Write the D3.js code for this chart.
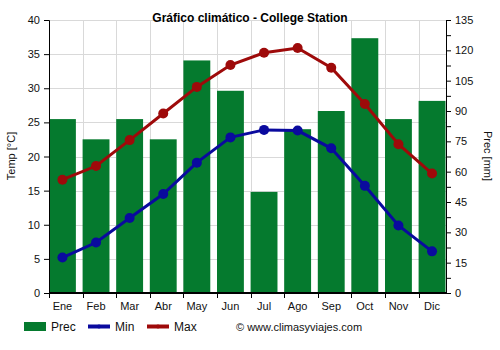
<!DOCTYPE html>
<html>
<head>
<meta charset="utf-8">
<script src="https://cdn.jsdelivr.net/npm/d3@7"></script>
<style>
  html, body { margin: 0; padding: 0; background: #fff; }
  svg { display: block; font-family: "Liberation Sans", Arial, sans-serif; }
</style>
</head>
<body>
<svg id="chart" width="500" height="350"></svg>
<script>
// Monthly climate data for College Station
const months = ["Ene", "Feb", "Mar", "Abr", "May", "Jun", "Jul", "Ago", "Sep", "Oct", "Nov", "Dic"];
const precip = [86, 76, 86, 76, 115, 100, 50, 81, 90, 126, 86, 95];
const tempMin = [5.2, 7.4, 11.0, 14.5, 19.1, 22.8, 23.9, 23.8, 21.2, 15.7, 9.9, 6.1];
const tempMax = [16.6, 18.6, 22.4, 26.3, 30.2, 33.4, 35.2, 35.9, 33.0, 27.7, 21.8, 17.5];
const tempTicks = [0, 5, 10, 15, 20, 25, 30, 35, 40];
const precTicks = [0, 15, 30, 45, 60, 75, 90, 105, 120, 135];

const svg = d3.select("#chart");
const pLeft = 49, pRight = 446, pTop = 20, pBottom = 293;
const step = 33.6;

const x = d3.scaleBand().domain(months).range([pLeft, pLeft + step * 12]).paddingInner(0).paddingOuter(0);
const barW = x.bandwidth() * 0.8;
const cx = m => x(m) + barW / 2;
const yT = d3.scaleLinear().domain([0, 40]).range([pBottom, pTop]);
const yP = d3.scaleLinear().domain([0, 135]).range([pBottom, pTop]);

const plot = svg.append("g");
plot.append("clipPath").attr("id", "clip")
  .append("rect").attr("x", pLeft).attr("y", pTop).attr("width", pRight - pLeft).attr("height", pBottom - pTop);

// grid
const grid = plot.append("g").attr("stroke", "#d9d9d9").attr("stroke-width", 1);
grid.selectAll("line.h").data(tempTicks.slice(1)).join("line").attr("class", "h")
  .attr("x1", pLeft).attr("x2", pRight)
  .attr("y1", d => Math.round(yT(d)) + 0.5).attr("y2", d => Math.round(yT(d)) + 0.5);
grid.selectAll("line.v").data(months.slice(1)).join("line").attr("class", "v")
  .attr("x1", d => Math.round(x(d)) + 0.5).attr("x2", d => Math.round(x(d)) + 0.5)
  .attr("y1", pTop).attr("y2", pBottom);

// precipitation bars
plot.append("g").attr("clip-path", "url(#clip)")
  .selectAll("rect").data(months).join("rect")
  .attr("x", d => x(d)).attr("width", barW)
  .attr("y", (d, i) => yP(precip[i])).attr("height", (d, i) => pBottom - yP(precip[i]))
  .attr("fill", "#057a2e");

// temperature lines
function series(vals, color) {
  const pts = months.map((m, i) => [cx(m), yT(vals[i])]);
  plot.append("path").attr("d", d3.line()(pts))
    .attr("fill", "none").attr("stroke", color).attr("stroke-width", 3);
  plot.append("g").selectAll("circle").data(pts).join("circle")
    .attr("cx", d => d[0]).attr("cy", d => d[1]).attr("r", 5).attr("fill", color);
}
series(tempMin, "#0a0a9e");
series(tempMax, "#9e0a0a");

// axes
const txt = "#111";
const axL = svg.append("g").attr("transform", `translate(${pLeft},0)`)
  .call(d3.axisLeft(yT).tickValues(tempTicks).tickSize(5).tickPadding(4));
axL.select(".domain").attr("stroke", "#000");
axL.selectAll("text").attr("font-size", 11).attr("fill", txt).attr("font-family", "Liberation Sans, Arial");

const axR = svg.append("g").attr("transform", `translate(${pRight},0)`)
  .call(d3.axisRight(yP).tickValues(d3.range(0, 136, 7.5)).tickSize(5).tickPadding(4)
    .tickFormat(d => precTicks.includes(d) ? d : ""));
axR.select(".domain").attr("stroke", "#000");
axR.selectAll("text").attr("font-size", 11).attr("fill", txt).attr("font-family", "Liberation Sans, Arial");

const axB = svg.append("g").attr("transform", `translate(0,${pBottom})`)
  .call(d3.axisBottom(x).tickSize(0).tickPadding(9));
axB.select(".domain").remove();
axB.selectAll(".tick").attr("transform", d => `translate(${cx(d)},0)`);
axB.selectAll("text").attr("font-size", 11).attr("fill", txt).attr("font-family", "Liberation Sans, Arial");
svg.append("line").attr("x1", pLeft).attr("x2", pRight).attr("y1", pBottom).attr("y2", pBottom)
  .attr("stroke", "#000").attr("stroke-width", 2);
svg.append("g").selectAll("line").data(months).join("line")
  .attr("x1", d => Math.round(x(d)) + 0.5).attr("x2", d => Math.round(x(d)) + 0.5)
  .attr("y1", pBottom).attr("y2", pBottom + 5).attr("stroke", "#000");

// titles
svg.append("text").attr("x", 250).attr("y", 22).attr("text-anchor", "middle")
  .attr("font-size", 12).attr("font-weight", "bold").attr("fill", "#000")
  .text("Gráfico climático - College Station");
svg.append("text").attr("transform", "translate(15,156) rotate(-90)").attr("text-anchor", "middle")
  .attr("font-size", 11).attr("fill", txt).text("Temp [°C]");
svg.append("text").attr("transform", "translate(484,156) rotate(90)").attr("text-anchor", "middle")
  .attr("font-size", 11).attr("fill", txt).text("Prec [mm]");

// legend
const lg = svg.append("g").attr("font-size", 12).attr("fill", txt);
lg.append("rect").attr("x", 24).attr("y", 322).attr("width", 22).attr("height", 9).attr("fill", "#057a2e");
lg.append("text").attr("x", 51).attr("y", 331).text("Prec");
[["Min", "#0a0a9e", 88], ["Max", "#9e0a0a", 147]].forEach(([name, color, lx]) => {
  lg.append("line").attr("x1", lx).attr("x2", lx + 22).attr("y1", 326.5).attr("y2", 326.5)
    .attr("stroke", color).attr("stroke-width", 4);
  lg.append("circle").attr("cx", lx + 11).attr("cy", 326.5).attr("r", 2).attr("fill", color);
  lg.append("text").attr("x", lx + 27).attr("y", 331).text(name);
});
lg.append("text").attr("x", 236).attr("y", 331).attr("font-size", 11).text("© www.climasyviajes.com");
</script>
</body>
</html>
